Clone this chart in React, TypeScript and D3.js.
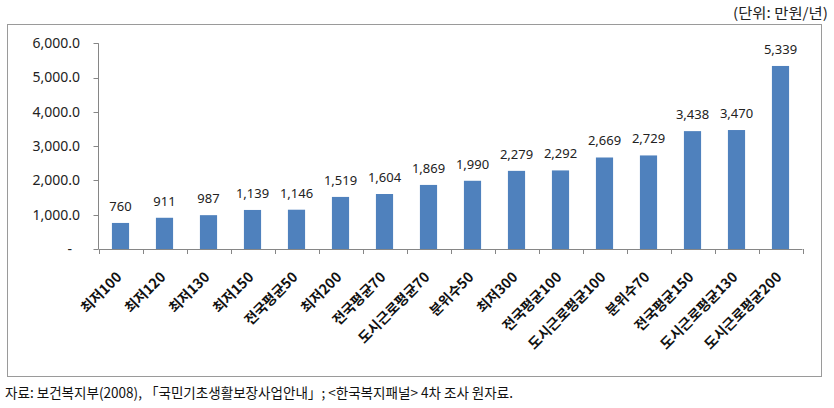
import React from "react";
import * as d3 from "d3";

const categories = ["최저100", "최저120", "최저130", "최저150", "전국평균50", "최저200", "전국평균70", "도시근로평균70", "분위수50", "최저300", "전국평균100", "도시근로평균100", "분위수70", "전국평균150", "도시근로평균130", "도시근로평균200"];
const values = [760, 911, 987, 1139, 1146, 1519, 1604, 1869, 1990, 2279, 2292, 2669, 2729, 3438, 3470, 5339];
const yTicks = [0, 1000, 2000, 3000, 4000, 5000, 6000];
const unitLabel = "(단위: 만원/년)";
const sourceLabel = "자료: 보건복지부(2008), 「국민기초생활보장사업안내」; <한국복지패널> 4차 조사 원자료.";

const W = 834, H = 408;
const plot = { left: 98.5, right: 802.5, top: 43.3, bottom: 249 };

export default function App() {
  const x = d3.scaleBand<string>().domain(categories).range([plot.left, plot.right]).paddingInner(0.61).paddingOuter(0.305);
  const y = d3.scaleLinear().domain([0, 6000]).range([plot.bottom, plot.top]);
  const step = x.step();
  const fmtY = (v: number) => (v === 0 ? "-" : d3.format(",.1f")(v));
  const fmtV = d3.format(",");
  const axisColor = "#868686";
  const font = "'Noto Sans', 'Noto Sans CJK KR', sans-serif";
  return (
    <svg width={W} height={H} style={{ position: "absolute", left: 0, top: 0, background: "#fff" }}>
      <text x={828} y={18} textAnchor="end" fontSize={14} fontFamily="'Noto Sans CJK KR', serif" fill="#222" textLength={95} lengthAdjust="spacingAndGlyphs">{unitLabel}</text>
      <rect x={7.5} y={24.5} width={814} height={352} fill="#fff" stroke="#9a9a9a" strokeWidth={1} />
      {/* y axis */}
      <line x1={plot.left} x2={plot.left} y1={y(6000)} y2={y(0)} stroke={axisColor} />
      {yTicks.map((t) => (
        <g key={t}>
          <line x1={plot.left - 5} x2={plot.left} y1={Math.round(y(t)) + 0.5} y2={Math.round(y(t)) + 0.5} stroke={axisColor} />
          <text x={t === 0 ? 72 : 80} y={y(t)} dy="0.35em" textAnchor="end" fontSize={14} fontFamily={font} fill="#222">{fmtY(t)}</text>
        </g>
      ))}
      {/* bars */}
      {categories.map((c, i) => (
        <g key={c}>
          <rect x={x(c)} y={y(values[i])} width={x.bandwidth()} height={y(0) - y(values[i])} fill="#4F81BD" />
          <text x={(x(c) as number) + x.bandwidth() / 2} y={y(values[i]) - 12} textAnchor="middle" fontSize={13} fontFamily={font} fill="#222">{fmtV(values[i])}</text>
        </g>
      ))}
      {/* x axis */}
      <line x1={plot.left} x2={plot.right} y1={plot.bottom + 0.5} y2={plot.bottom + 0.5} stroke={axisColor} />
      {d3.range(categories.length + 1).map((k) => (
        <line key={k} x1={Math.round(plot.left + k * step) + 0.5} x2={Math.round(plot.left + k * step) + 0.5} y1={plot.bottom} y2={plot.bottom + 5} stroke={axisColor} />
      ))}
      {categories.map((c) => {
        const cx = (x(c) as number) + x.bandwidth() / 2;
        return (
          <text key={c} transform={`translate(${cx + 2},${278}) rotate(-45)`} textAnchor="end" fontSize={14} fontWeight="bold" fontFamily="'Noto Sans CJK KR', sans-serif" fill="#111">{c}</text>
        );
      })}
      <text x={5} y={398} fontSize={14} fontFamily="'Noto Sans CJK KR', serif" fill="#111" textLength={508} lengthAdjust="spacingAndGlyphs">{sourceLabel}</text>
    </svg>
  );
}
